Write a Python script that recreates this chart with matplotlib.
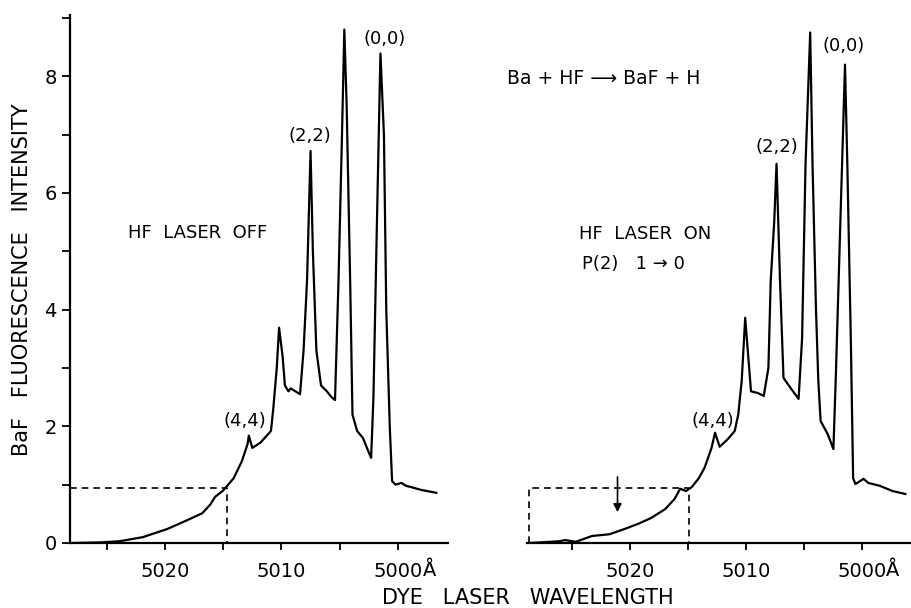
import numpy as np
import matplotlib
matplotlib.use("Agg")
import matplotlib.pyplot as plt

plt.rcParams['font.family'] = ['DejaVu Sans']

# HF laser off (left panel): wavelength (A), BaF fluorescence intensity
off_wl = [5028.0, 5025.6, 5023.9, 5021.9, 5019.8, 5018.1, 5016.8, 5016.1, 5015.7, 5015.0,
          5014.1, 5013.4, 5012.9, 5012.8, 5012.5, 5011.8, 5010.9, 5010.7, 5010.4, 5010.2,
          5009.9, 5009.7, 5009.4, 5009.2, 5008.8, 5008.4, 5008.1, 5007.8, 5007.5, 5007.3,
          5007.0, 5006.6, 5006.1, 5005.7, 5005.4, 5005.1, 5004.8, 5004.6, 5004.4, 5004.1,
          5003.9, 5003.5, 5003.0, 5002.6, 5002.3, 5002.1, 5001.8, 5001.5, 5001.2, 5001.0,
          5000.7, 5000.5, 5000.2, 4999.7, 4999.3, 4998.9, 4998.0, 4996.7]
off_int = [0.0, 0.01, 0.03, 0.10, 0.24, 0.39, 0.51, 0.66, 0.79, 0.90,
           1.11, 1.40, 1.70, 1.84, 1.63, 1.72, 1.92, 2.30, 3.00, 3.69,
           3.20, 2.70, 2.60, 2.65, 2.60, 2.55, 3.30, 4.50, 6.72, 5.00,
           3.30, 2.70, 2.60, 2.50, 2.45, 4.50, 7.00, 8.80, 7.50, 4.50,
           2.20, 1.92, 1.80, 1.60, 1.46, 2.50, 5.50, 8.39, 7.00, 4.00,
           2.00, 1.06, 1.00, 1.03, 0.98, 0.96, 0.91, 0.86]

# HF laser on, P(2) 1->0 (right panel)
on_wl = [5028.7, 5026.1, 5025.6, 5024.7, 5023.3, 5021.8, 5020.5, 5019.3, 5018.2, 5017.0,
         5016.2, 5015.7, 5015.2, 5014.7, 5014.1, 5013.6, 5013.0, 5012.7, 5012.3, 5011.6,
         5011.0, 5010.7, 5010.4, 5010.1, 5009.6, 5009.0, 5008.5, 5008.1, 5007.9, 5007.6,
         5007.4, 5007.1, 5006.8, 5006.2, 5005.5, 5005.2, 5004.9, 5004.5, 5004.3, 5004.0,
         5003.8, 5003.6, 5003.0, 5002.5, 5002.3, 5001.9, 5001.5, 5001.3, 5001.0, 5000.8,
         5000.6, 4999.9, 4999.5, 4998.5, 4997.4, 4996.3]
on_int = [0.0, 0.03, 0.05, 0.02, 0.12, 0.15, 0.24, 0.33, 0.43, 0.58,
          0.75, 0.93, 0.89, 0.96, 1.11, 1.29, 1.63, 1.89, 1.65, 1.78,
          1.92, 2.20, 2.78, 3.86, 2.60, 2.57, 2.52, 3.00, 4.50, 5.50,
          6.50, 4.50, 2.83, 2.66, 2.47, 3.50, 6.50, 8.75, 6.50, 4.00,
          2.78, 2.09, 1.87, 1.61, 2.80, 5.50, 8.20, 6.50, 3.50, 1.11,
          1.01, 1.10, 1.03, 0.98, 0.89, 0.84]

xticks = [5025, 5020, 5015, 5010, 5005, 5000]
xtick_labels = ['', '5020', '', '5010', '', '5000']
yticks = [0, 1, 2, 3, 4, 5, 6, 7, 8, 9]
ytick_labels = ['0', '', '2', '', '4', '', '6', '', '8', '']

off_cut_wl = 5014.7
on_cut_wl = 5014.9
cut_level = 0.95
arrow_wl = 5021.1

fig = plt.figure(figsize=(9.12, 6.08), dpi=100)
W, H = 912, 608

def make_axes(x0, x1):
    ax = fig.add_axes([x0 / W, (H - 543) / H, (x1 - x0) / W, (543 - 15) / H])
    ax.set_ylim(0, 9.05)
    ax.set_xticks(xticks)
    ax.set_xticklabels(xtick_labels, fontsize=14)
    ax.tick_params(axis='x', direction='out', length=5, width=1.3, pad=9)
    for s in ['top', 'right']:
        ax.spines[s].set_visible(False)
    ax.spines['bottom'].set_linewidth(1.6)
    ax.spines['left'].set_linewidth(1.6)
    return ax

# left panel
ax1 = make_axes(70, 448)
ax1.set_xlim(5028.15, 4995.7)
ax1.set_yticks(yticks)
ax1.set_yticklabels(ytick_labels, fontsize=14)
ax1.tick_params(axis='y', direction='out', length=6, width=1.3)
ax1.plot(off_wl, off_int, color='black', lw=1.6)
ax1.plot([5028.15, off_cut_wl, off_cut_wl], [cut_level, cut_level, 0],
         color='black', lw=1.2, ls=(0, (4, 3)))
ax1.text(5001.1, 8.64, '(0,0)', fontsize=13, ha='center', va='center')
ax1.text(5007.55, 6.98, '(2,2)', fontsize=13, ha='center', va='center')
ax1.text(5013.1, 2.09, '(4,4)', fontsize=13, ha='center', va='center')
ax1.text(5017.2, 5.32, 'HF  LASER  OFF', fontsize=13, ha='center', va='center')
ax1.text(4997.3, -0.47, 'Å', fontsize=14, ha='center', va='center')

# right panel
ax2 = make_axes(527, 910)
ax2.set_xlim(5028.9, 4995.9)
ax2.spines['left'].set_visible(False)
ax2.set_yticks([])
ax2.plot(on_wl, on_int, color='black', lw=1.6)
ax2.plot([5028.75, 5028.75, on_cut_wl, on_cut_wl], [0, cut_level, cut_level, 0],
         color='black', lw=1.2, ls=(0, (4, 3)))
ax2.annotate('', xy=(arrow_wl, 0.48), xytext=(arrow_wl, 1.18),
             arrowprops=dict(arrowstyle='-|>', color='black', lw=1.2, mutation_scale=12))
ax2.text(5001.6, 8.52, '(0,0)', fontsize=13, ha='center', va='center')
ax2.text(5007.4, 6.78, '(2,2)', fontsize=13, ha='center', va='center')
ax2.text(5012.9, 2.09, '(4,4)', fontsize=13, ha='center', va='center')
ax2.text(5018.7, 5.30, 'HF  LASER  ON', fontsize=13, ha='center', va='center')
ax2.text(5019.7, 4.79, 'P(2)   1 → 0', fontsize=13, ha='center', va='center')
ax2.text(4997.4, -0.47, 'Å', fontsize=14, ha='center', va='center')

fig.text(604 / W, 1 - 78 / H, 'Ba + HF ⟶ BaF + H', fontsize=13.5, ha='center', va='center')
fig.text(22 / W, 1 - 280 / H, 'BaF   FLUORESCENCE   INTENSITY', fontsize=15,
         rotation=90, ha='center', va='center')
fig.text(528 / W, 1 - 598 / H, 'DYE   LASER   WAVELENGTH', fontsize=15,
         ha='center', va='center')

fig.savefig('out.png', dpi=100)
